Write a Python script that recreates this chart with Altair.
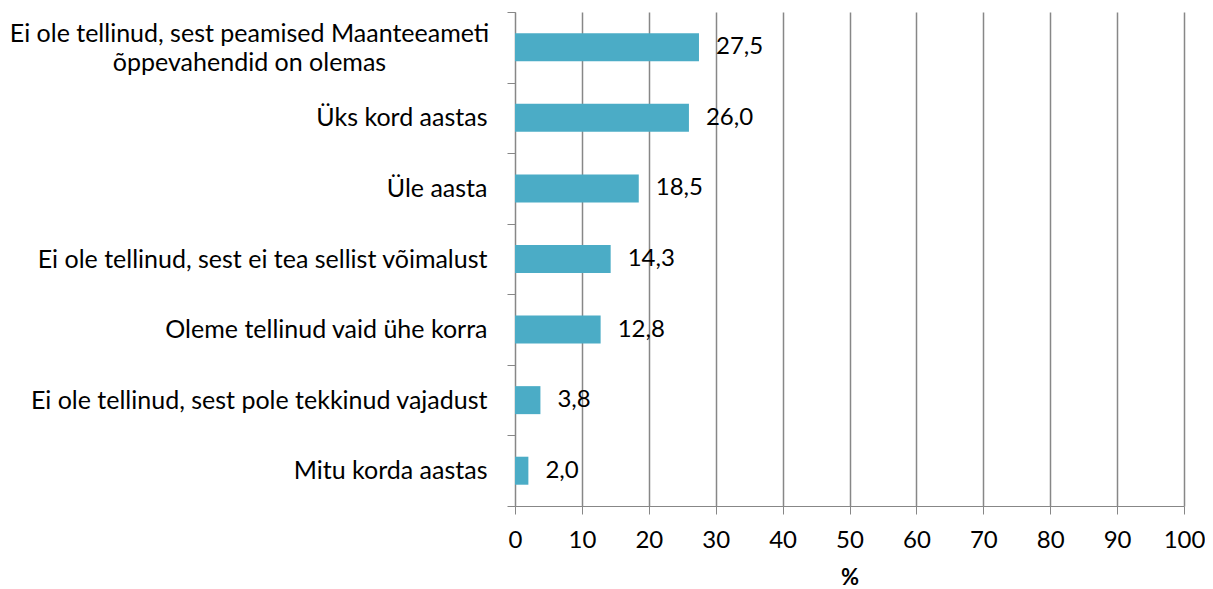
import altair as alt
import pandas as pd

categories = [
    "Ei ole tellinud, sest peamised Maanteeameti\nõppevahendid on olemas",
    "Üks kord aastas",
    "Üle aasta",
    "Ei ole tellinud, sest ei tea sellist võimalust",
    "Oleme tellinud vaid ühe korra",
    "Ei ole tellinud, sest pole tekkinud vajadust",
    "Mitu korda aastas",
]
values = [27.5, 26.0, 18.5, 14.3, 12.8, 3.8, 2.0]
x_ticks = [0, 10, 20, 30, 40, 50, 60, 70, 80, 90, 100]
x_title = "%"

df = pd.DataFrame({
    "category": categories,
    "value": values,
    "label": [f"{v:.1f}".replace(".", ",") for v in values],
})

FONT = "Lato, sans-serif"
GREY = "#878787"
MULTI = categories[0]
TEST = f"datum.value == {MULTI!r}".replace("\n", "\\n")

y_enc = alt.Y(
    "category:N",
    sort=categories,
    scale=alt.Scale(paddingInner=0, paddingOuter=0),
    axis=alt.Axis(
        title=None,
        tickBand="extent",
        tickSize=8,
        tickColor=GREY,
        domainColor=GREY,
        grid=False,
        labelFont=FONT,
        labelFontSize=25,
        labelColor="#000000",
        labelLimit=600,
        labelLineHeight=29,
        labelExpr="split(datum.label, '\\n')",
        labelAlign=alt.condition(TEST, alt.value("center"), alt.value("right")),
        labelPadding=alt.condition(TEST, alt.value(258), alt.value(20)),
        labelOffset=alt.condition(TEST, alt.value(-14), alt.value(0)),
    ),
)

x_enc = alt.X(
    "value:Q",
    scale=alt.Scale(domain=[0, 100], nice=False),
    axis=alt.Axis(
        values=x_ticks,
        title=x_title,
        grid=True,
        gridColor=GREY,
        gridWidth=1.5,
        tickSize=8,
        tickColor=GREY,
        domainColor=GREY,
        labelFlush=False,
        labelFont=FONT,
        labelFontSize=24,
        labelColor="#000000",
        labelPadding=14,
        titleFont=FONT,
        titleFontSize=22,
        titleFontWeight="bold",
        titleColor="#000000",
        titlePadding=15,
    ),
)

bars = alt.Chart(df).mark_bar(color="#4bacc6", size=28).encode(x=x_enc, y=y_enc)
text = alt.Chart(df).mark_text(
    align="left", baseline="middle", dx=17, font=FONT, fontSize=24, color="#000000"
).encode(x=alt.X("value:Q"), y=alt.Y("category:N", sort=categories), text="label:N")

chart = alt.layer(bars, text).properties(
    width=669,
    height=494,
    autosize=alt.AutoSizeParams(type="none"),
    padding={"left": 507, "top": 4, "right": 21, "bottom": 83},
).configure_view(stroke=None)

chart.save("out.html", embed_options={"renderer": "svg", "actions": False})
